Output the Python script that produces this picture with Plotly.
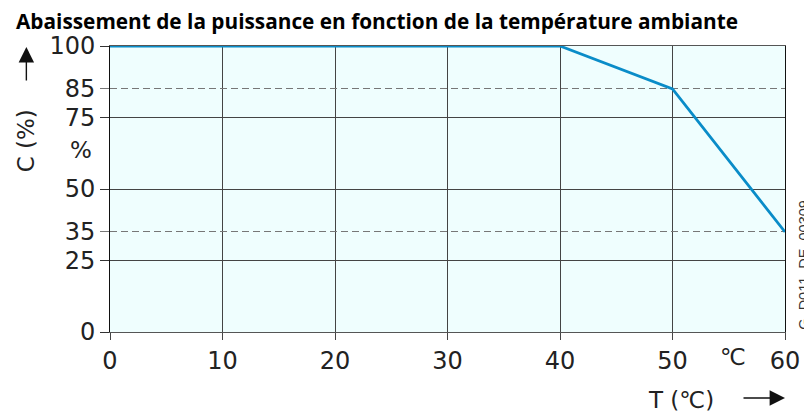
import plotly.graph_objects as go

# ---- data ----
temperature = [0, 40, 50, 60]          # °C
capacity = [100, 100, 85, 35]           # %
x_ticks = [0, 10, 20, 30, 40, 50, 60]
y_ticks_solid = [0, 25, 50, 75, 100]
y_ticks_dashed = [35, 85]

title_text = "Abaissement de la puissance en fonction de la température ambiante"
y_title = "C (%)"
x_title = "T (℃)"
ref_code = "G_D011_DE_00309"

# ---- layout geometry ----
# page body has an 8px margin: figure is offset by (8, 8) in the screenshot
OFF = 8
W, H = 812 - OFF, 413 - OFF
L, R, T, B = 110 - OFF, 796 - OFF, 46 - OFF, 332 - OFF


def px(x, y):
    """screenshot pixel -> paper coordinates"""
    x -= OFF
    y -= OFF
    return (x - L) / (R - L), (B - y) / (B - T)


TICK_FONT = dict(family="DejaVu Sans, sans-serif", size=24, color="#222")
LABEL_FONT = dict(family="DejaVu Sans, sans-serif", size=23, color="#222")
LINE = "#0a8cc8"
BG = "#effefe"

fig = go.Figure()
fig.add_trace(go.Scatter(x=temperature, y=capacity, mode="lines",
                         line=dict(color=LINE, width=2.8), showlegend=False,
                         hoverinfo="skip"))
fig.add_trace(go.Scatter(x=[0], y=[0], yaxis="y2", mode="markers",
                         marker=dict(opacity=0), showlegend=False, hoverinfo="skip"))

fig.update_layout(
    width=W, height=H,
    margin=dict(l=L, r=W - R, t=T, b=H - B, pad=0),
    paper_bgcolor="white",
    plot_bgcolor=BG,
    xaxis=dict(range=[0, 60], tickvals=x_ticks, ticktext=[str(v) for v in x_ticks],
               showgrid=True, gridcolor="#444", gridwidth=1,
               ticks="outside", ticklen=7, tickcolor="#444", tickwidth=1,
               showline=True, linecolor="#555", linewidth=1, mirror=True,
               zeroline=False, tickfont=TICK_FONT, fixedrange=True),
    yaxis=dict(range=[0, 100], tickvals=y_ticks_solid, ticktext=[str(v) for v in y_ticks_solid],
               showgrid=True, gridcolor="#444", gridwidth=1,
               ticks="outside", ticklen=9, tickcolor="#333", tickwidth=1,
               showline=True, linecolor="#111", linewidth=1, mirror=True,
               zeroline=False, tickfont=TICK_FONT, fixedrange=True),
    yaxis2=dict(range=[0, 100], overlaying="y", side="left",
                tickvals=y_ticks_dashed, ticktext=[str(v) for v in y_ticks_dashed],
                showgrid=True, gridcolor="#777", gridwidth=1, griddash="7px,4px",
                ticks="outside", ticklen=9, tickcolor="#777", tickwidth=1,
                showline=False, zeroline=False, tickfont=TICK_FONT, fixedrange=True),
)

ann = []
tx, ty = px(12, 21)
ann.append(dict(text="<b>" + title_text + "</b>", x=tx, y=ty, xref="paper", yref="paper",
                xanchor="left", yanchor="middle", showarrow=False,
                font=dict(family="Open Sans, sans-serif", size=20.8, color="#000")))
cx, cy = px(25, 141)
ann.append(dict(text=y_title, x=cx, y=cy, xref="paper", yref="paper", textangle=-90,
                xanchor="center", yanchor="middle", showarrow=False, font=LABEL_FONT))
pcx, pcy = px(81, 150)
ann.append(dict(text="%", x=pcx, y=pcy, xref="paper", yref="paper",
                xanchor="center", yanchor="middle", showarrow=False, font=LABEL_FONT))
dx, dy = px(743, 357)
ann.append(dict(text="℃", x=dx, y=dy, xref="paper", yref="paper",
                xanchor="center", yanchor="middle", showarrow=False, font=LABEL_FONT))
ttx, tty = px(690, 400)
ann.append(dict(text=x_title, x=ttx, y=tty, xref="paper", yref="paper",
                xanchor="center", yanchor="middle", showarrow=False, font=LABEL_FONT))
gx, gy = px(815, 265)
ann.append(dict(text=ref_code, x=gx, y=gy, xref="paper", yref="paper", textangle=-90,
                xanchor="center", yanchor="middle", showarrow=False,
                font=dict(family="Liberation Sans, Arial, sans-serif", size=14.5, color="#333")))
# arrows
ax1, ay1 = px(25, 47)
ann.append(dict(text="", x=ax1, y=ay1, xref="paper", yref="paper", showarrow=True,
                ax=0, ay=35, arrowhead=2, arrowsize=2.2, arrowwidth=1.4, arrowcolor="#111"))
ax2, ay2 = px(796, 398)
ann.append(dict(text="", x=ax2, y=ay2, xref="paper", yref="paper", showarrow=True,
                ax=-43, ay=0, arrowhead=2, arrowsize=2.2, arrowwidth=1.4, arrowcolor="#111"))
fig.update_layout(annotations=ann)

fig.write_html("out.html")
